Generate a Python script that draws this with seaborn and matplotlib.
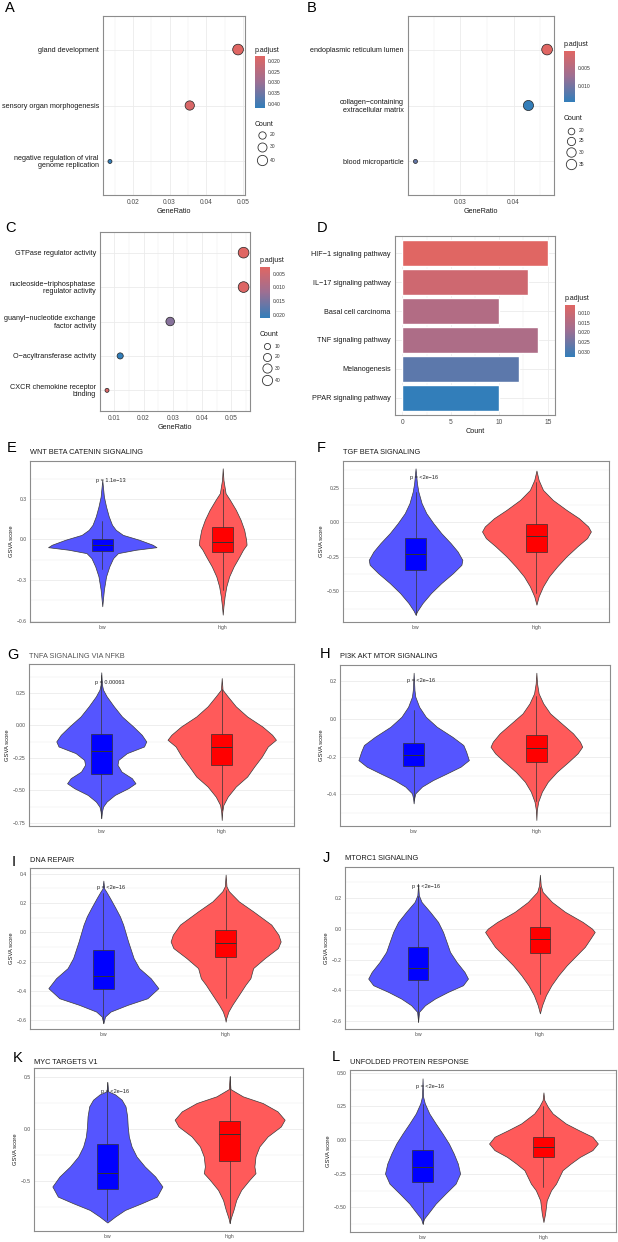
import numpy as np
import pandas as pd
import matplotlib
matplotlib.use("Agg")
import matplotlib.pyplot as plt
import seaborn as sns
from matplotlib.colors import LinearSegmentedColormap, Normalize
from matplotlib.ticker import MultipleLocator, FixedLocator
import matplotlib.cm as cm

sns.set_style("white")
plt.rcParams['font.family'] = ['Liberation Sans', 'DejaVu Sans']

# ---------------- data: enrichment panels ----------------
a_terms = ["gland development", "sensory organ morphogenesis",
           "negative regulation of viral\ngenome replication"]
a_ratio = [0.0487, 0.0355, 0.0137]
a_count = [44, 32, 12]
a_padj = [0.0178, 0.0190, 0.0419]

b_terms = ["endoplasmic reticulum lumen", "collagen\u2212containing\nextracellular matrix",
           "blood microparticle"]
b_ratio = [0.0463, 0.0428, 0.0216]
b_count = [37, 34, 17]
b_padj = [0.0004, 0.0140, 0.0110]

c_terms = ["GTPase regulator activity", "nucleoside\u2212triphosphatase\nregulator activity",
           "guanyl\u2212nucleotide exchange\nfactor activity", "O\u2212acyltransferase activity",
           "CXCR chemokine receptor\nbinding"]
c_ratio = [0.0542, 0.0542, 0.0291, 0.0120, 0.0075]
c_count = [45, 45, 24, 10, 6]
c_padj = [0.0026, 0.0030, 0.0137, 0.0211, 0.0035]

d_terms = ["HIF\u22121 signaling pathway", "IL\u221217 signaling pathway", "Basal cell carcinoma",
           "TNF signaling pathway", "Melanogenesis", "PPAR signaling pathway"]
d_count = [15, 13, 10, 14, 12, 10]
d_padj = [0.0059, 0.0095, 0.0150, 0.0160, 0.0273, 0.0326]

# ---------------- data: GSVA violin panels ----------------
groups = ["low", "high"]
v_titles = ["WNT BETA CATENIN SIGNALING", "TGF BETA SIGNALING", "TNFA SIGNALING VIA NFKB",
            "PI3K AKT MTOR SIGNALING", "DNA REPAIR", "MTORC1 SIGNALING",
            "MYC TARGETS V1", "UNFOLDED PROTEIN RESPONSE"]
v_pvals = ["p = 1.1e\u221213", "p = <2e\u221216", "p = 0.00063", "p = <2e\u221216",
           "p = <2e\u221216", "p = <2e\u221216", "p = <2e\u221216", "p = <2e\u221216"]
v_py = [0.435, 0.322, 0.332, 0.207, 0.304, 0.273, 0.353, 0.397]

# density profiles (score, relative density) per group
E_low_y = [0.44, 0.317, 0.243, 0.17, 0.108, 0.071, 0.034, -0.002, -0.039, -0.057, -0.076, -0.101, -0.138, -0.199, -0.273, -0.371, -0.494]
E_low_d = [0, 0.03, 0.07, 0.12, 0.18, 0.25, 0.38, 0.68, 0.93, 1.0, 0.62, 0.29, 0.2, 0.13, 0.07, 0.03, 0]
E_high_y = [0.526, 0.44, 0.342, 0.293, 0.219, 0.145, 0.071, -0.002, -0.039, -0.076, -0.125, -0.199, -0.273, -0.347, -0.42, -0.494, -0.556]
E_high_d = [0, 0.03, 0.12, 0.3, 0.55, 0.75, 0.9, 0.98, 1.0, 0.85, 0.7, 0.46, 0.27, 0.15, 0.08, 0.03, 0]

F_low_y = [0.389, 0.281, 0.221, 0.137, 0.065, -0.007, -0.079, -0.151, -0.212, -0.272, -0.308, -0.368, -0.44, -0.512, -0.584, -0.64, -0.668]
F_low_d = [0, 0.03, 0.06, 0.13, 0.23, 0.38, 0.55, 0.75, 0.9, 1.0, 0.98, 0.8, 0.55, 0.33, 0.15, 0.04, 0]
F_high_y = [0.373, 0.305, 0.233, 0.161, 0.089, 0.029, -0.031, -0.067, -0.115, -0.175, -0.248, -0.32, -0.392, -0.464, -0.536, -0.596]
F_high_d = [0, 0.04, 0.12, 0.3, 0.55, 0.78, 0.95, 1.0, 0.93, 0.75, 0.55, 0.38, 0.23, 0.12, 0.04, 0]

G_low_y = [0.409, 0.314, 0.275, 0.224, 0.147, 0.069, -0.008, -0.072, -0.123, -0.162, -0.213, -0.265, -0.303, -0.355, -0.406, -0.445, -0.483, -0.535, -0.586, -0.625, -0.663, -0.715]
G_low_d = [0, 0.015, 0.04, 0.12, 0.28, 0.46, 0.71, 0.9, 1.0, 0.95, 0.57, 0.38, 0.36, 0.45, 0.68, 0.76, 0.6, 0.3, 0.12, 0.04, 0.015, 0]
G_high_y = [0.365, 0.275, 0.224, 0.147, 0.069, -0.008, -0.072, -0.11, -0.162, -0.239, -0.316, -0.393, -0.47, -0.548, -0.612, -0.663, -0.728]
G_high_d = [0, 0.015, 0.11, 0.26, 0.47, 0.75, 0.93, 1.0, 0.85, 0.74, 0.6, 0.47, 0.26, 0.11, 0.03, 0.01, 0]

H_low_y = [0.246, 0.154, 0.119, 0.065, 0.012, -0.041, -0.094, -0.138, -0.173, -0.218, -0.253, -0.289, -0.324, -0.359, -0.395, -0.421, -0.448]
H_low_d = [0, 0.015, 0.03, 0.1, 0.22, 0.42, 0.7, 0.9, 0.95, 1.0, 0.85, 0.6, 0.35, 0.15, 0.03, 0.01, 0]
H_high_y = [0.246, 0.189, 0.136, 0.083, 0.03, -0.023, -0.076, -0.12, -0.147, -0.182, -0.227, -0.28, -0.333, -0.386, -0.439, -0.483, -0.536]
H_high_d = [0, 0.015, 0.05, 0.15, 0.3, 0.55, 0.8, 0.95, 1.0, 0.9, 0.7, 0.45, 0.25, 0.12, 0.04, 0.01, 0]

I_low_y = [0.354, 0.30, 0.28, 0.235, 0.167, 0.11, 0.053, -0.062, -0.176, -0.244, -0.313, -0.381, -0.45, -0.495, -0.541, -0.575, -0.621]
I_low_d = [0, 0.015, 0.05, 0.12, 0.22, 0.3, 0.36, 0.45, 0.55, 0.65, 0.86, 1.0, 0.8, 0.44, 0.13, 0.03, 0]
I_high_y = [0.395, 0.315, 0.281, 0.212, 0.144, 0.053, -0.016, -0.062, -0.107, -0.176, -0.244, -0.313, -0.358, -0.427, -0.495, -0.541, -0.587, -0.61]
I_high_d = [0, 0.015, 0.06, 0.24, 0.5, 0.83, 0.96, 1.0, 0.95, 0.71, 0.5, 0.45, 0.36, 0.24, 0.12, 0.05, 0.01, 0]

J_low_y = [0.29, 0.215, 0.172, 0.108, 0.043, -0.022, -0.086, -0.151, -0.215, -0.28, -0.323, -0.366, -0.409, -0.452, -0.495, -0.538, -0.602]
J_low_d = [0, 0.015, 0.07, 0.24, 0.4, 0.5, 0.57, 0.64, 0.77, 0.93, 1.0, 0.9, 0.6, 0.34, 0.14, 0.02, 0]
J_high_y = [0.348, 0.28, 0.237, 0.172, 0.108, 0.043, 0.0, -0.022, -0.065, -0.118, -0.172, -0.237, -0.301, -0.366, -0.43, -0.495, -0.548]
J_high_d = [0, 0.015, 0.05, 0.22, 0.46, 0.78, 0.95, 1.0, 0.92, 0.82, 0.67, 0.49, 0.34, 0.21, 0.11, 0.04, 0]

K_low_y = [0.449, 0.359, 0.33, 0.279, 0.215, 0.119, 0.022, -0.074, -0.17, -0.266, -0.362, -0.458, -0.554, -0.651, -0.715, -0.779, -0.843, -0.9]
K_low_d = [0, 0.015, 0.14, 0.26, 0.33, 0.36, 0.37, 0.39, 0.44, 0.53, 0.68, 0.87, 1.0, 0.9, 0.62, 0.32, 0.14, 0]
K_high_y = [0.503, 0.381, 0.311, 0.247, 0.167, 0.087, 0.022, -0.074, -0.17, -0.266, -0.362, -0.426, -0.49, -0.587, -0.683, -0.779, -0.859, -0.907]
K_high_d = [0, 0.015, 0.24, 0.6, 0.87, 1.0, 0.93, 0.69, 0.54, 0.47, 0.45, 0.47, 0.36, 0.21, 0.12, 0.07, 0.02, 0]

L_low_y = [0.459, 0.323, 0.273, 0.198, 0.124, 0.05, -0.025, -0.099, -0.174, -0.248, -0.323, -0.397, -0.471, -0.533, -0.583, -0.62]
L_low_d = [0, 0.015, 0.06, 0.18, 0.35, 0.53, 0.7, 0.83, 0.94, 1.0, 0.88, 0.61, 0.35, 0.18, 0.04, 0]
L_high_y = [0.355, 0.298, 0.248, 0.198, 0.124, 0.074, 0.025, -0.025, -0.074, -0.124, -0.174, -0.223, -0.273, -0.323, -0.372, -0.447, -0.546, -0.608]
L_high_d = [0, 0.015, 0.08, 0.17, 0.41, 0.65, 0.9, 1.0, 0.9, 0.67, 0.5, 0.35, 0.29, 0.23, 0.14, 0.06, 0.03, 0]

# relative max widths (low, high)
v_widths = [(1.0, 0.44), (0.86, 1.0), (0.83, 1.0), (1.0, 0.83),
            (1.0, 1.0), (0.91, 1.0), (1.0, 1.0), (0.69, 1.0)]

# box stats: (whislo, q1, median, q3, whishi) for low / high
E_box = [(-0.22, -0.088, -0.044, 0.003, 0.133), (-0.37, -0.096, -0.015, 0.091, 0.37)]
F_box = [(-0.668, -0.344, -0.231, -0.115, 0.22), (-0.51, -0.212, -0.103, -0.01, 0.29)]
G_box = [(-0.715, -0.375, -0.198, -0.069, 0.39), (-0.65, -0.303, -0.167, -0.069, 0.28)]
H_box = [(-0.43, -0.25, -0.191, -0.129, 0.05), (-0.436, -0.227, -0.156, -0.087, 0.123)]
I_box = [(-0.621, -0.388, -0.297, -0.123, 0.27), (-0.45, -0.171, -0.073, 0.016, 0.29)]
J_box = [(-0.602, -0.335, -0.252, -0.116, 0.21), (-0.42, -0.161, -0.065, 0.011, 0.27)]
K_box = [(-0.875, -0.574, -0.42, -0.147, 0.449), (-0.9, -0.314, -0.048, 0.077, 0.503)]
L_box = [(-0.62, -0.31, -0.198, -0.074, 0.27), (-0.35, -0.127, -0.05, 0.025, 0.25)]

v_ylims = [(-0.61, 0.58), (-0.721, 0.442), (-0.774, 0.473), (-0.568, 0.287),
           (-0.66, 0.44), (-0.649, 0.398), (-0.981, 0.583), (-0.682, 0.521)]
v_yticks = [[-0.6, -0.3, 0.0, 0.3], [-0.5, -0.25, 0.0, 0.25], [-0.75, -0.5, -0.25, 0.0, 0.25],
            [-0.4, -0.2, 0.0, 0.2], [-0.6, -0.4, -0.2, 0.0, 0.2, 0.4], [-0.6, -0.4, -0.2, 0.0, 0.2],
            [-0.5, 0.0, 0.5], [-0.5, -0.25, 0.0, 0.25, 0.5]]
v_ydec = [1, 2, 2, 1, 1, 1, 1, 2]

# ---------------- figure ----------------
W, H = 618, 1242
fig = plt.figure(figsize=(W / 100, H / 100), dpi=100)


def add_ax(l, r, t, b):
    return fig.add_axes([l / W, 1 - b / H, (r - l) / W, (b - t) / H])


overlay = fig.add_axes([0, 0, 1, 1], zorder=10)
overlay.set_xlim(0, W)
overlay.set_ylim(H, 0)
overlay.axis("off")

cmap = LinearSegmentedColormap.from_list("padj", ["#e06663", "#9c6f93", "#327eba"])
GRID = "#ebebeb"
SPINE = "#8c8c8c"
TXT = "#1a1a1a"
TICKTXT = "#4d4d4d"


def fmt_num(t, dec):
    s = f"{t:.{dec}f}"
    return s.replace("-", "\u2212")


def style_frame(ax):
    for s in ax.spines.values():
        s.set_color(SPINE)
        s.set_linewidth(0.8)
    ax.set_facecolor("white")
    ax.set_axisbelow(True)


def colorbar(l, r, t, b, vmin, vmax, ticks):
    cax = add_ax(l, r, t, b)
    sm = cm.ScalarMappable(norm=Normalize(vmin, vmax), cmap=cmap)
    cb = fig.colorbar(sm, cax=cax)
    cb.set_ticks(ticks)
    cb.set_ticklabels([f"{t:.3f}" for t in ticks])
    cax.set_ylim(vmax, vmin)
    cb.outline.set_visible(False)
    cax.tick_params(labelsize=3.6, length=2, width=0.4, color="white", direction="in",
                    pad=2, labelcolor="#333333")
    overlay.text(l, t - 6, "p.adjust", fontsize=5, color=TXT, ha="left", va="center")


def size_legend(x, ytitle, ys, levels, dfun):
    overlay.text(x - 7, ytitle, "Count", fontsize=5, color=TXT, ha="left", va="center")
    for y, c in zip(ys, levels):
        overlay.scatter([x], [y], s=dfun(c) ** 2, facecolor="white", edgecolor="#333333",
                        linewidth=0.6, zorder=11)
        overlay.text(x + 8, y, str(c), fontsize=3.6, color="#333333", ha="left", va="center")


def dotplot(box, terms, ratio, count, padj, xlim, xticks, xminor, vmin, vmax):
    ax = add_ax(*box)
    df = pd.DataFrame({"term": terms, "GeneRatio": ratio, "Count": count, "p.adjust": padj})
    cmin, cmax = min(count), max(count)
    dmin, dmax = 2.9, 7.7

    def diam(c):
        return dmin + np.sqrt(max(c - cmin, 0) / (cmax - cmin)) * (dmax - dmin)

    sizes = {c: diam(c) ** 2 for c in set(count)}
    sns.scatterplot(data=df, x="GeneRatio", y="term", hue="p.adjust", size="Count",
                    sizes=sizes, palette=cmap, hue_norm=(vmin, vmax), edgecolor="#222222",
                    linewidth=0.5, legend=False, ax=ax, zorder=3)
    n = len(terms)
    ax.set_yticks(range(n))
    ax.set_yticklabels(terms, linespacing=1.0)
    ax.set_ylim(n - 0.4, -0.6)
    ax.set_xlim(*xlim)
    ax.set_xticks(xticks)
    ax.set_xticklabels([f"{t:g}" for t in xticks])
    ax.xaxis.set_minor_locator(MultipleLocator(xminor))
    ax.grid(True, which="major", color=GRID, lw=0.6)
    ax.grid(True, which="minor", axis="x", color=GRID, lw=0.35)
    ax.set_ylabel("")
    ax.set_xlabel("GeneRatio", fontsize=5.2, color=TXT, labelpad=1.5)
    ax.tick_params(axis="both", which="major", length=2, width=0.5, color="#333333", pad=1)
    ax.tick_params(axis="y", labelsize=5.2, labelcolor=TXT)
    ax.tick_params(axis="x", labelsize=4.8, labelcolor=TICKTXT)
    ax.tick_params(which="minor", length=0)
    style_frame(ax)
    return diam


# A
dA = dotplot((103, 245, 16, 195), a_terms, a_ratio, a_count, a_padj, (0.0118, 0.0506),
             [0.02, 0.03, 0.04, 0.05], 0.005, 0.0177, 0.0419)
colorbar(255, 265, 56, 108, 0.0177, 0.0419, [0.020, 0.025, 0.030, 0.035, 0.040])
size_legend(262, 124, [135, 147, 160], [20, 30, 40], dA)

# B
dB = dotplot((408, 554, 16, 195), b_terms, b_ratio, b_count, b_padj, (0.0202, 0.0476),
             [0.03, 0.04], 0.005, 0.0004, 0.0142)
colorbar(564, 575, 51, 102, 0.0004, 0.0142, [0.005, 0.010])
size_legend(571, 119, [131, 141, 152, 164], [20, 25, 30, 35], dB)

# C
dC = dotplot((100, 250, 232, 411), c_terms, c_ratio, c_count, c_padj, (0.0051, 0.0564),
             [0.01, 0.02, 0.03, 0.04, 0.05], 0.005, 0.0026, 0.0211)
colorbar(260, 270, 267, 318, 0.0026, 0.0211, [0.005, 0.010, 0.015, 0.020])
size_legend(267, 335, [346, 357, 368, 380], [10, 20, 30, 40], dC)

# D
axD = add_ax(395, 555, 236, 415)
dfD = pd.DataFrame({"Description": d_terms, "Count": d_count, "p.adjust": d_padj})
normD = Normalize(0.0059, 0.0326)
d_colors = [cmap(normD(p)) for p in d_padj]
sns.barplot(data=dfD, x="Count", y="Description", hue="Description", palette=d_colors,
            legend=False, width=0.9, saturation=1, orient="h", ax=axD, zorder=3)
axD.set_ylim(5.6, -0.6)
axD.set_xlim(-0.75, 15.75)
axD.set_xticks([0, 5, 10, 15])
axD.xaxis.set_minor_locator(FixedLocator([2.5, 7.5, 12.5]))
axD.grid(True, which="major", color=GRID, lw=0.6)
axD.grid(True, which="minor", axis="x", color=GRID, lw=0.35)
axD.set_ylabel("")
axD.set_xlabel("Count", fontsize=5.2, color=TXT, labelpad=1.5)
axD.tick_params(axis="both", which="major", length=2, width=0.5, color="#333333", pad=1)
axD.tick_params(axis="y", labelsize=5.2, labelcolor=TXT)
axD.tick_params(axis="x", labelsize=4.8, labelcolor=TICKTXT)
axD.tick_params(which="minor", length=0)
style_frame(axD)
colorbar(565, 575, 305, 357, 0.0059, 0.0326, [0.010, 0.015, 0.020, 0.025, 0.030])

# ---------------- violin panels ----------------
v_boxes_px = [(30, 295, 461, 622), (343, 609, 461, 622), (29, 294, 664, 826),
              (340, 610, 665, 826), (30, 299, 868, 1029), (345, 613, 867, 1029),
              (34, 303, 1068, 1231), (350, 616, 1070, 1232)]
v_profiles = [((E_low_y, E_low_d), (E_high_y, E_high_d)),
              ((F_low_y, F_low_d), (F_high_y, F_high_d)),
              ((G_low_y, G_low_d), (G_high_y, G_high_d)),
              ((H_low_y, H_low_d), (H_high_y, H_high_d)),
              ((I_low_y, I_low_d), (I_high_y, I_high_d)),
              ((J_low_y, J_low_d), (J_high_y, J_high_d)),
              ((K_low_y, K_low_d), (K_high_y, K_high_d)),
              ((L_low_y, L_low_d), (L_high_y, L_high_d))]
v_boxstats = [E_box, F_box, G_box, H_box, I_box, J_box, K_box, L_box]
violin_fill = ["#5555ff", "#ff5a5a"]
box_fill = ["#0000ff", "#ff0000"]

for i in range(8):
    ax = add_ax(*v_boxes_px[i])
    stats = []
    for ys, ds in v_profiles[i]:
        ys = np.asarray(ys, float)
        ds = np.asarray(ds, float)
        stats.append(dict(coords=ys, vals=ds, mean=float(np.mean(ys)), median=float(np.median(ys)),
                          min=float(ys.min()), max=float(ys.max())))
    widths = [0.9 * w for w in v_widths[i]]
    parts = ax.violin(stats, positions=[1, 2], widths=widths, showextrema=False)
    for body, fc in zip(parts["bodies"], violin_fill):
        body.set_facecolor(fc)
        body.set_edgecolor("#3a3a3a")
        body.set_linewidth(0.5)
        body.set_alpha(1)
    bstats = [dict(whislo=b[0], q1=b[1], med=b[2], q3=b[3], whishi=b[4], fliers=[])
              for b in v_boxstats[i]]
    bp = ax.bxp(bstats, positions=[1, 2], widths=0.17, patch_artist=True, showcaps=False,
                showfliers=False, manage_ticks=False,
                boxprops=dict(linewidth=0.5, edgecolor="#333333"),
                medianprops=dict(color="#333333", linewidth=0.7),
                whiskerprops=dict(color="#333333", linewidth=0.5))
    for patch, fc in zip(bp["boxes"], box_fill):
        patch.set_facecolor(fc)
    ax.text(0.95, v_py[i], v_pvals[i], ha="left", va="center", fontsize=4, color="#222222")
    ax.set_xlim(0.4, 2.6)
    ax.set_ylim(*v_ylims[i])
    yt = v_yticks[i]
    ax.set_yticks(yt)
    ax.set_yticklabels([fmt_num(t, v_ydec[i]) for t in yt])
    step = yt[1] - yt[0]
    ax.yaxis.set_minor_locator(MultipleLocator(step / 2))
    ax.set_xticks([1, 2])
    ax.set_xticklabels(groups)
    ax.grid(True, which="major", axis="y", color=GRID, lw=0.6)
    ax.grid(True, which="minor", axis="y", color=GRID, lw=0.35)
    ax.grid(False, axis="x")
    ax.tick_params(axis="both", which="major", length=1.5, width=0.4, color="#333333", pad=1,
                   labelsize=3.6, labelcolor=TICKTXT)
    ax.tick_params(which="minor", length=0)
    ax.set_ylabel("GSVA score", fontsize=4.2, color=TXT, labelpad=2)
    ax.set_xlabel("")
    style_frame(ax)

# ---------------- titles and panel letters ----------------
title_pos = [(30, 453), (343, 453), (29, 657), (340, 657), (30, 861), (345, 859),
             (34, 1062), (350, 1063)]
title_col = [TXT, TXT, "#555555", TXT, TXT, TXT, TXT, TXT]
for (x, y), t, c in zip(title_pos, v_titles, title_col):
    overlay.text(x, y, t, fontsize=5.3, color=c, ha="left", va="center")

letters = ["A", "B", "C", "D", "E", "F", "G", "H", "I", "J", "K", "L"]
letter_pos = [(10, 8), (312, 8), (10, 228), (322, 228), (11.5, 448), (321, 448),
              (13, 655), (325, 654), (14, 862), (326, 858), (18, 1058), (336, 1057)]
for (x, y), s in zip(letter_pos, letters):
    overlay.text(x, y, s, fontsize=10.5, color="black", ha="center", va="center")

fig.savefig("out.png", dpi=100)
